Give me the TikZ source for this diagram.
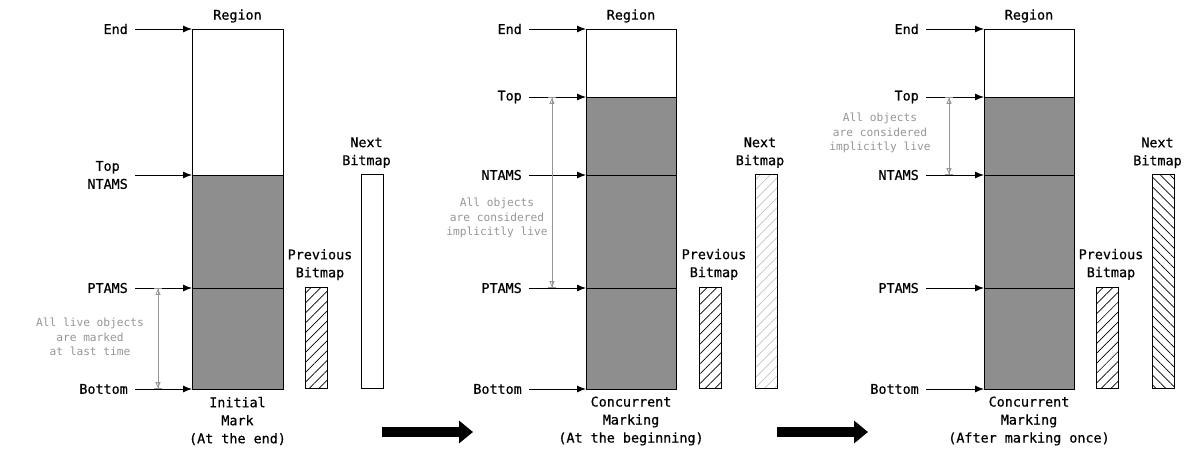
\documentclass[tikz,border=0pt]{standalone}
\usepackage{fontspec}
\setmonofont{DejaVu Sans Mono}
\newfontfamily\levelfont[FakeBold=0.6]{DejaVu Sans Mono}
\usetikzlibrary{arrows.meta,patterns.meta,positioning,calc}
\definecolor{live}{RGB}{142,142,142}
\definecolor{notegray}{RGB}{150,150,150}
\definecolor{lighthatch}{RGB}{195,195,195}
\tikzstyle{levelname}=[font=\levelfont\fontsize{13.4}{18}\selectfont, inner sep=0pt, align=center, text=black]
\tikzstyle{note}=[font=\ttfamily\fontsize{11.2}{14.5}\selectfont, inner sep=0pt, align=center, text=notegray]
\tikzstyle{pointer}=[-{Latex[length=9pt,width=7pt]}, line width=.9pt, shorten <=7pt]
\tikzstyle{livespan}=[{Bar[width=8pt]Triangle[open,length=6pt,width=5pt]}-{Triangle[open,length=6pt,width=5pt]Bar[width=8pt]}, line width=.8pt, draw=notegray]
\tikzstyle{regionframe}=[draw=black, line width=.9pt]
\tikzstyle{bitmap}=[draw=black, line width=.9pt, minimum width=22pt, anchor=south, inner sep=0pt]
\tikzstyle{stagearrow}=[-{Triangle[length=14pt,width=22pt]}, line width=10pt]
\tikzset{prevhatch/.style={pattern={Lines[angle=45,distance=7pt,line width=.7pt]}}}
\tikzset{lighthatch/.style={pattern={Lines[angle=45,distance=7pt,line width=.7pt]}, pattern color=lighthatch}}
\tikzset{nexthatch/.style={pattern={Lines[angle=-45,distance=7pt,line width=.7pt]}}}
\tikzset{x=1pt}
\tikzset{y=-1pt}
\begin{document}
\begin{tikzpicture}
  \useasboundingbox (0,0) rectangle (1195,460);

  %% Initial mark
  \coordinate (end1) at (192,29);
  \coordinate (ntams1) at (192,175);
  \coordinate (ptams1) at (192,288);
  \coordinate (bot1) at (192,389);
  \fill[live] (ntams1) rectangle ++(91,214);
  \draw[regionframe] (ptams1) -- ++(91,0);
  \draw[regionframe] (ntams1) -- ++(91,0);
  \draw[regionframe] (end1) rectangle ++(91,360);
  \node[levelname] (reg1) at (237.5,16) {Region};
  \node[levelname, anchor=east] (lend1) at (128,29) {End};
  \node[levelname, anchor=east] (lntams1) at (128,175) {Top\\NTAMS};
  \node[levelname, anchor=east] (lptams1) at (128,288) {PTAMS};
  \node[levelname, anchor=east] (lbot1) at (128,389) {Bottom};
  \draw[pointer] (lend1) -- (end1);
  \draw[pointer] (lntams1) -- (ntams1);
  \draw[pointer] (lptams1) -- (ptams1);
  \draw[pointer] (lbot1) -- (bot1);
  \draw[livespan] ([xshift=-34pt]ptams1) -- ([xshift=-34pt]bot1);
  \node[note] (note1) at (90,337) {All live objects\\are marked\\at last time};
  \node[bitmap, minimum height=101pt, prevhatch] (pb1) at (316,389) {};
  \node[levelname, above=7pt of pb1, xshift=4pt] (lpb1) {Previous\\Bitmap};
  \node[bitmap, minimum height=214pt] (nb1) at (372.5,389) {};
  \node[levelname, above=6pt of nb1, xshift=-6pt] (lnb1) {Next\\Bitmap};
  \node[levelname] (cap1) at (237.5,421) {Initial\\Mark\\(At the end)};

  %% Concurrent marking, beginning
  \coordinate (end2) at (586,29);
  \coordinate (top2) at (586,97);
  \coordinate (ntams2) at (586,175);
  \coordinate (ptams2) at (586,288);
  \coordinate (bot2) at (586,389);
  \fill[live] (top2) rectangle ++(90,292);
  \draw[regionframe] (ptams2) -- ++(90,0);
  \draw[regionframe] (ntams2) -- ++(90,0);
  \draw[regionframe] (top2) -- ++(90,0);
  \draw[regionframe] (end2) rectangle ++(90,360);
  \node[levelname] (reg2) at (631,16) {Region};
  \node[levelname, anchor=east] (lend2) at (522,29) {End};
  \node[levelname, anchor=east] (ltop2) at (522,97) {Top};
  \node[levelname, anchor=east] (lntams2) at (522,175) {NTAMS};
  \node[levelname, anchor=east] (lptams2) at (522,288) {PTAMS};
  \node[levelname, anchor=east] (lbot2) at (522,389) {Bottom};
  \draw[pointer] (lend2) -- (end2);
  \draw[pointer] (ltop2) -- (top2);
  \draw[pointer] (lntams2) -- (ntams2);
  \draw[pointer] (lptams2) -- (ptams2);
  \draw[pointer] (lbot2) -- (bot2);
  \draw[livespan] ([xshift=-34pt]top2) -- ([xshift=-34pt]ptams2);
  \node[note] (note2) at (497,218) {All objects\\are considered\\implicitly live};
  \node[bitmap, minimum height=101pt, prevhatch] (pb2) at (710,389) {};
  \node[levelname, above=7pt of pb2, xshift=4pt] (lpb2) {Previous\\Bitmap};
  \node[bitmap, minimum height=214pt, lighthatch] (nb2) at (766,389) {};
  \node[levelname, above=6pt of nb2, xshift=-6pt] (lnb2) {Next\\Bitmap};
  \node[levelname] (cap2) at (631,421) {Concurrent\\Marking\\(At the beginning)};

  %% Concurrent marking, after one pass
  \coordinate (end3) at (984,29);
  \coordinate (top3) at (984,97);
  \coordinate (ntams3) at (984,175);
  \coordinate (ptams3) at (984,288);
  \coordinate (bot3) at (984,389);
  \fill[live] (top3) rectangle ++(90,292);
  \draw[regionframe] (ptams3) -- ++(90,0);
  \draw[regionframe] (ntams3) -- ++(90,0);
  \draw[regionframe] (top3) -- ++(90,0);
  \draw[regionframe] (end3) rectangle ++(90,360);
  \node[levelname] (reg3) at (1029,16) {Region};
  \node[levelname, anchor=east] (lend3) at (919,29) {End};
  \node[levelname, anchor=east] (ltop3) at (919,97) {Top};
  \node[levelname, anchor=east] (lntams3) at (919,175) {NTAMS};
  \node[levelname, anchor=east] (lptams3) at (919,288) {PTAMS};
  \node[levelname, anchor=east] (lbot3) at (919,389) {Bottom};
  \draw[pointer] (lend3) -- (end3);
  \draw[pointer] (ltop3) -- (top3);
  \draw[pointer] (lntams3) -- (ntams3);
  \draw[pointer] (lptams3) -- (ptams3);
  \draw[pointer] (lbot3) -- (bot3);
  \draw[livespan] ([xshift=-35pt]top3) -- ([xshift=-35pt]ntams3);
  \node[note] (note3) at (880,133) {All objects\\are considered\\implicitly live};
  \node[bitmap, minimum height=101pt, prevhatch] (pb3) at (1107,389) {};
  \node[levelname, above=7pt of pb3, xshift=4pt] (lpb3) {Previous\\Bitmap};
  \node[bitmap, minimum height=214pt, nexthatch] (nb3) at (1163.5,389) {};
  \node[levelname, above=6pt of nb3, xshift=-6pt] (lnb3) {Next\\Bitmap};
  \node[levelname] (cap3) at (1029,421) {Concurrent\\Marking\\(After marking once)};

  %% Stage arrows
  \coordinate (stage1a) at (382,432);
  \coordinate (stage1b) at (473,432);
  \coordinate (stage2a) at (777,432);
  \coordinate (stage2b) at (868,432);
  \draw[stagearrow] (stage1a) -- (stage1b);
  \draw[stagearrow] (stage2a) -- (stage2b);
\end{tikzpicture}
\end{document}
